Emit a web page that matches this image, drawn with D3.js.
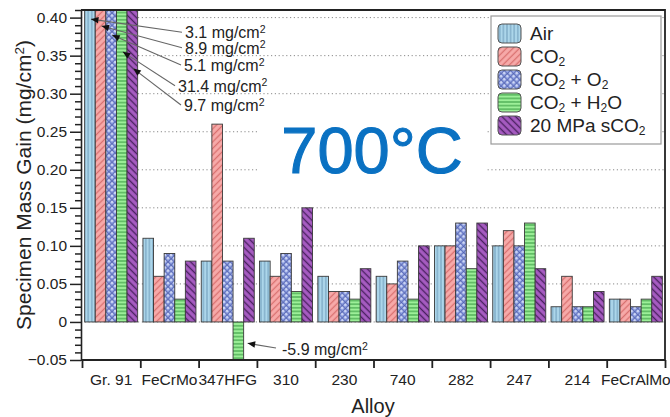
<!DOCTYPE html>
<html>
<head>
<meta charset="utf-8">
<script src="https://cdn.jsdelivr.net/npm/d3@7"></script>
<style>
  html, body { margin: 0; padding: 0; background: #fff; }
  svg { display: block; font-family: "Liberation Sans", Arial, Helvetica, sans-serif; }
</style>
</head>
<body>
<svg id="chart" width="670" height="417"></svg>
<script>
// Specimen mass gain (mg/cm²) after exposure at 700 °C, per alloy and environment
const alloys = ["Gr. 91", "FeCrMo", "347HFG", "310", "230", "740", "282", "247", "214", "FeCrAlMo"];
const seriesKeys = ["air", "co2", "co2o2", "co2h2o", "sco2"];
const seriesLabels = [
  [{ t: "Air" }],
  [{ t: "CO" }, { t: "2", sub: true }],
  [{ t: "CO" }, { t: "2", sub: true }, { t: " + O" }, { t: "2", sub: true }],
  [{ t: "CO" }, { t: "2", sub: true }, { t: " + H" }, { t: "2", sub: true }, { t: "O" }],
  [{ t: "20 MPa sCO" }, { t: "2", sub: true }]
];
const air    = [3.1,  0.11, 0.08, 0.08, 0.06, 0.06, 0.10, 0.10, 0.02, 0.03];
const co2    = [8.9,  0.06, 0.26, 0.06, 0.04, 0.05, 0.10, 0.12, 0.06, 0.03];
const co2o2  = [5.1,  0.09, 0.08, 0.09, 0.04, 0.08, 0.13, 0.10, 0.02, 0.02];
const co2h2o = [31.4, 0.03, -5.9, 0.04, 0.03, 0.03, 0.07, 0.13, 0.02, 0.03];
const sco2   = [9.7,  0.08, 0.11, 0.15, 0.07, 0.10, 0.13, 0.07, 0.04, 0.06];
const yTicks = [-0.05, 0, 0.05, 0.10, 0.15, 0.20, 0.25, 0.30, 0.35, 0.40];
const yMinorStep = 0.01;
const yDomain = [-0.05, 0.41];
const temperatureLabel = "700°C";
const xTitle = "Alloy";

const seriesValues = { air, co2, co2o2, co2h2o, sco2 };

const svg = d3.select("#chart");
const plot = { left: 81, right: 665, top: 10, bottom: 360 };
const ink = "#222";

const x0 = d3.scaleBand().domain(alloys).range([82, plot.right]).paddingInner(0).paddingOuter(0);
const x1 = d3.scaleBand().domain(seriesKeys).range([0, x0.bandwidth()]).paddingInner(0).paddingOuter(0.25);
const y = d3.scaleLinear().domain(yDomain).range([plot.bottom, plot.top]);

// ---------- fill patterns ----------
const defs = svg.append("defs");
function stripes(id, bg, line, size, width, rotate, horizontal) {
  const p = defs.append("pattern").attr("id", id)
    .attr("patternUnits", "userSpaceOnUse")
    .attr("width", size).attr("height", size);
  if (rotate) p.attr("patternTransform", `rotate(${rotate})`);
  p.append("rect").attr("width", size).attr("height", size).attr("fill", bg);
  if (horizontal) {
    p.append("line").attr("x1", 0).attr("x2", size).attr("y1", size / 2).attr("y2", size / 2)
      .attr("stroke", line).attr("stroke-width", width);
  } else {
    p.append("line").attr("y1", 0).attr("y2", size).attr("x1", size / 2).attr("x2", size / 2)
      .attr("stroke", line).attr("stroke-width", width);
  }
}
stripes("pat-air", "#acd6ea", "#6f9cba", 3.6, 1, 0, false);
stripes("pat-co2", "#f7aaa9", "#d9706f", 4.6, 1.3, 45, false);
stripes("pat-co2h2o", "#9cef98", "#3d9f45", 3.6, 1.1, 0, true);
stripes("pat-sco2", "#a75cc2", "#4a2160", 4.8, 1.4, -45, false);
{
  const s = 4.4;
  const p = defs.append("pattern").attr("id", "pat-co2o2")
    .attr("patternUnits", "userSpaceOnUse").attr("width", s).attr("height", s)
    .attr("patternTransform", "rotate(45)");
  p.append("rect").attr("width", s).attr("height", s).attr("fill", "#8597dc");
  p.append("path").attr("d", `M0,0H${s}M0,0V${s}`).attr("stroke", "#43509c").attr("stroke-width", 0.9);
  p.append("circle").attr("cx", s / 2).attr("cy", s / 2).attr("r", 1.25).attr("fill", "#d3dbf7");
}
const fills = { air: "url(#pat-air)", co2: "url(#pat-co2)", co2o2: "url(#pat-co2o2)", co2h2o: "url(#pat-co2h2o)", sco2: "url(#pat-sco2)" };

defs.append("clipPath").attr("id", "plot-clip")
  .append("rect").attr("x", plot.left).attr("y", plot.top)
  .attr("width", plot.right - plot.left).attr("height", plot.bottom - plot.top);

// ---------- grid ----------
svg.append("g").selectAll("line").data(yTicks.filter(d => d > yDomain[0])).join("line")
  .attr("x1", plot.left).attr("x2", plot.right)
  .attr("y1", d => y(d)).attr("y2", d => y(d))
  .attr("stroke", "#8a8a8a").attr("stroke-width", 1).attr("stroke-dasharray", "1.2,2.6");

// ---------- bars ----------
const barData = [];
alloys.forEach((a, i) => seriesKeys.forEach(k => barData.push({ alloy: a, key: k, value: seriesValues[k][i] })));
svg.append("g").attr("clip-path", "url(#plot-clip)")
  .selectAll("rect").data(barData).join("rect")
  .attr("x", d => x0(d.alloy) + x1(d.key))
  .attr("width", x1.bandwidth())
  .attr("y", d => y(Math.max(0, d.value)))
  .attr("height", d => Math.abs(y(d.value) - y(0)))
  .attr("fill", d => fills[d.key])
  .attr("stroke", "#3a3a3a").attr("stroke-width", 0.9);

// ---------- axes ----------
const yAxis = svg.append("g").attr("transform", `translate(${plot.left},0)`)
  .call(d3.axisLeft(y).tickValues(yTicks).tickSize(11).tickSizeOuter(0).tickPadding(3)
    .tickFormat(d => d === 0 ? "0" : d3.format(".2f")(d)));
const minorVals = d3.range(Math.round(yDomain[0] / yMinorStep), Math.floor(yDomain[1] / yMinorStep) + 1)
  .map(i => +(i * yMinorStep).toFixed(2)).filter(v => !yTicks.some(t => Math.abs(t - v) < 1e-9));
const yMinor = svg.append("g").attr("transform", `translate(${plot.left},0)`)
  .call(d3.axisLeft(y).tickValues(minorVals).tickSize(6).tickSizeOuter(0).tickFormat(""));
yMinor.select(".domain").remove();
[yAxis, yMinor].forEach(g => {
  g.selectAll(".tick line").attr("stroke", ink).attr("stroke-width", 1.5);
  g.selectAll(".domain").attr("stroke", ink).attr("stroke-width", 1.6);
});
yAxis.selectAll(".tick text").attr("font-size", 15.5).attr("fill", ink).attr("font-family", null);

const xBound = d3.scaleLinear().domain([0, alloys.length]).range([82, plot.right]);
const xTicksG = svg.append("g").attr("transform", `translate(0,${plot.bottom})`)
  .call(d3.axisBottom(xBound).tickValues(d3.range(alloys.length + 1)).tickSize(8).tickSizeOuter(0).tickFormat(""));
xTicksG.select(".domain").remove();
xTicksG.selectAll(".tick line").attr("stroke", ink).attr("stroke-width", 1.8);

const xLabels = svg.append("g").attr("transform", `translate(0,${plot.bottom})`)
  .call(d3.axisBottom(x0).tickSize(0).tickPadding(14));
xLabels.select(".domain").remove();
xLabels.selectAll(".tick text").attr("font-size", 15.5).attr("fill", ink).attr("font-family", null);

// plot frame
svg.append("path")
  .attr("d", `M${plot.left},${plot.bottom}H${plot.right}V${plot.top}H${plot.left}`)
  .attr("fill", "none").attr("stroke", ink).attr("stroke-width", 1.8);

// ---------- axis titles ----------
svg.append("text").attr("x", (plot.left + plot.right) / 2).attr("y", 413)
  .attr("text-anchor", "middle").attr("font-size", 20).attr("fill", ink).text(xTitle);
const yt = svg.append("text")
  .attr("transform", `translate(31,${(plot.top + plot.bottom) / 2}) rotate(-90)`)
  .attr("text-anchor", "middle").attr("font-size", 21).attr("fill", ink);
yt.append("tspan").text("Specimen Mass Gain (mg/cm");
yt.append("tspan").attr("dy", -7).attr("font-size", 13.5).text("2");
yt.append("tspan").attr("dy", 7).text(")");

// ---------- temperature label ----------
svg.append("rect").attr("x", 258).attr("y", 108).attr("width", 229).attr("height", 90).attr("fill", "#fff");
svg.append("text").attr("x", 372).attr("y", 173).attr("text-anchor", "middle")
  .attr("font-size", 65).attr("fill", "#0a71c2")
  .attr("stroke", "#0a71c2").attr("stroke-width", 1.1).text(temperatureLabel);

// ---------- legend ----------
const lg = svg.append("g").attr("transform", "translate(491,16)");
lg.append("rect").attr("width", 170).attr("height", 128).attr("fill", "#fff")
  .attr("stroke", "#9a9a9a").attr("stroke-width", 1.2);
seriesKeys.forEach((k, i) => {
  const row = lg.append("g").attr("transform", `translate(7,${8 + i * 23})`);
  row.append("rect").attr("width", 23).attr("height", 19).attr("rx", 4)
    .attr("fill", fills[k]).attr("stroke", "#555").attr("stroke-width", 1);
  const t = row.append("text").attr("x", 32).attr("y", 16).attr("font-size", 19).attr("fill", ink);
  let shifted = false;
  seriesLabels[i].forEach(part => {
    const ts = t.append("tspan").text(part.t);
    if (part.sub) { ts.attr("font-size", 12).attr("dy", 3); shifted = true; }
    else if (shifted) { ts.attr("dy", -3); shifted = false; }
  });
});

// ---------- value callouts for off-scale bars ----------
function arrow(g, x0p, y0p, x1p, y1p) {
  g.append("line").attr("x1", x0p).attr("y1", y0p).attr("x2", x1p).attr("y2", y1p)
    .attr("stroke", "#666").attr("stroke-width", 1.1);
  const ang = Math.atan2(y1p - y0p, x1p - x0p), L = 7.5, Wd = 3.2;
  const bx = x1p - L * Math.cos(ang), by = y1p - L * Math.sin(ang);
  const px = -Math.sin(ang) * Wd, py = Math.cos(ang) * Wd;
  g.append("path").attr("d", `M${x1p},${y1p}L${bx + px},${by + py}L${bx - px},${by - py}Z`).attr("fill", "#111");
}
function valueText(g, xp, yp, v) {
  const t = g.append("text").attr("x", xp).attr("y", yp).attr("font-size", 16).attr("fill", ink);
  t.append("tspan").text(`${v} mg/cm`);
  t.append("tspan").attr("dy", -5.5).attr("font-size", 10.5).text("2");
}
const ann = svg.append("g");
// callout layout for the first alloy: arrow tip level (axis units), text x and baseline
const tipLevels = [0.398, 0.389, 0.377, 0.355, 0.333];
const textX = [185, 185, 184, 178, 184];
const textBase = [38.3, 53.8, 71, 91.7, 111];
seriesKeys.forEach((k, i) => {
  const v = seriesValues[k][0];
  const tipX = x0(alloys[0]) + x1(k) + x1.bandwidth() / 2 + 1;
  arrow(ann, textX[i] - 3, textBase[i] - 6, tipX, y(tipLevels[i]));
  valueText(ann, textX[i], textBase[i], v);
});
// negative bar callout (347HFG, CO2 + H2O)
{
  const ai = 2, k = "co2h2o", v = seriesValues[k][ai];
  const right = x0(alloys[ai]) + x1(k) + x1.bandwidth();
  arrow(ann, 276, 348, right + 4, y(-0.028));
  valueText(ann, 282, 355, v);
}
</script>
</body>
</html>
